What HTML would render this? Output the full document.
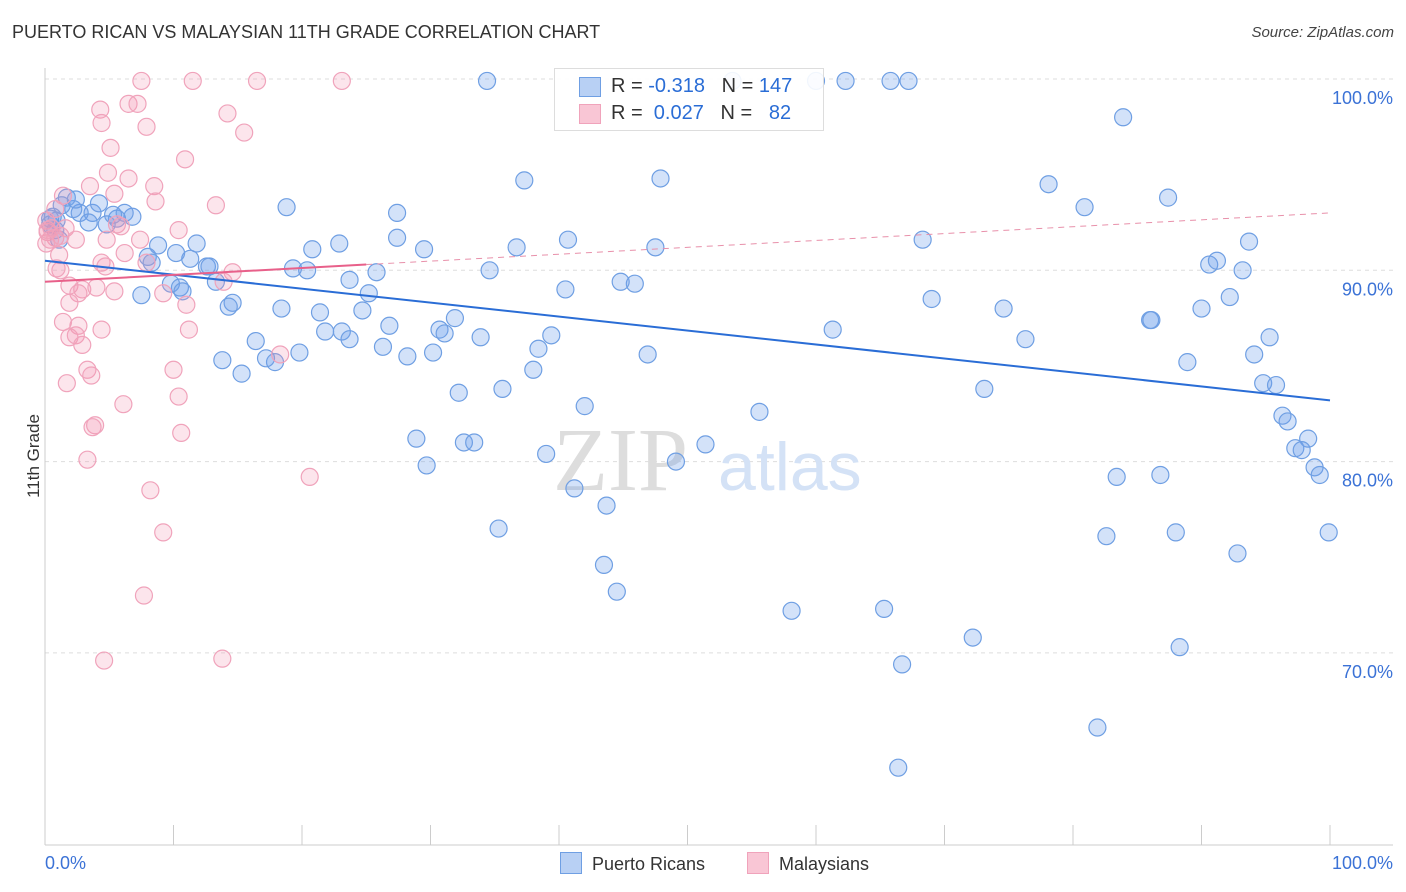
<!DOCTYPE html>
<html><head><meta charset="utf-8"><style>
body{margin:0;background:#fff;font-family:"Liberation Sans",sans-serif;}
#wrap{position:relative;width:1406px;height:892px;overflow:hidden;}
.t{position:absolute;white-space:nowrap;}
</style></head><body>
<div id="wrap">
<div class="t" style="left:12px;top:22px;font-size:18px;color:#333;">PUERTO RICAN VS MALAYSIAN 11TH GRADE CORRELATION CHART</div>
<div class="t" style="right:12px;top:24px;font-size:15px;color:#444;font-style:italic;">Source: ZipAtlas.com</div>
<div class="t" style="left:-8px;top:446px;font-size:17px;color:#333;transform:rotate(-90deg);">11th Grade</div>
<svg id="svg" width="1406" height="892" style="position:absolute;left:0;top:0"></svg>
</div>
<script>
const yTicks=[100,90,80,70];
const yTickLabels=["100.0%","90.0%","80.0%","70.0%"];
const xTickLabels=["0.0%","100.0%"];
const blueX=[34.4,53.5,60.0,62.3,65.8,67.2,83.9,78.1,80.9,87.4,93.7,90.6,91.2,93.2,92.2,90.0,86.0,86.1,95.3,94.1,88.9,94.8,95.8,96.3,96.7,98.3,97.3,97.8,98.8,99.2,99.9,92.8,88.0,82.6,86.8,83.4,88.3,81.9,72.2,66.7,66.4,65.3,58.1,44.5,43.5,35.3,39.0,41.2,43.7,49.1,51.4,42.0,55.6,68.3,69.0,74.6,76.3,73.1,61.3,46.9,45.9,44.8,47.5,47.9,40.5,40.7,37.3,36.7,34.6,39.4,38.4,38.0,35.6,32.2,32.6,33.4,28.9,29.7,27.4,29.5,27.4,23.7,25.8,25.2,24.7,23.1,23.7,26.8,26.3,28.2,30.2,30.7,31.1,31.9,33.9,22.9,20.8,20.4,19.3,18.8,18.4,21.4,21.8,19.8,17.9,17.2,16.4,15.3,13.8,14.6,14.3,13.3,12.6,12.8,11.3,11.8,10.2,8.8,8.0,8.3,9.8,10.5,10.7,7.5,6.8,6.2,5.6,4.8,5.3,3.7,4.2,2.7,3.4,2.2,1.7,1.3,0.9,0.4,0.4,0.8,1.1,2.4,0.6];
const blueY=[99.9,99.9,99.9,99.9,99.9,99.9,98.0,94.5,93.3,93.8,91.5,90.3,90.5,90.0,88.6,88.0,87.4,87.4,86.5,85.6,85.2,84.1,84.0,82.4,82.1,81.2,80.7,80.6,79.7,79.3,76.3,75.2,76.3,76.1,79.3,79.2,70.3,66.1,70.8,69.4,64.0,72.3,72.2,73.2,74.6,76.5,80.4,78.6,77.7,80.0,80.9,82.9,82.6,91.6,88.5,88.0,86.4,83.8,86.9,85.6,89.3,89.4,91.2,94.8,89.0,91.6,94.7,91.2,90.0,86.6,85.9,84.8,83.8,83.6,81.0,81.0,81.2,79.8,93.0,91.1,91.7,89.5,89.9,88.8,87.9,86.8,86.4,87.1,86.0,85.5,85.7,86.9,86.7,87.5,86.5,91.4,91.1,90.0,90.1,93.3,88.0,87.8,86.8,85.7,85.2,85.4,86.3,84.6,85.3,88.3,88.1,89.4,90.2,90.2,90.6,91.4,90.9,91.3,90.7,90.4,89.3,89.1,88.9,88.7,92.8,93.0,92.7,92.4,92.9,93.0,93.5,93.0,92.5,93.2,93.8,93.4,92.6,92.4,92.7,92.1,91.6,93.7,92.8];
const pinkX=[7.5,11.5,16.5,23.1,4.3,6.5,7.2,4.4,7.9,14.2,15.5,5.1,10.9,4.9,6.5,3.5,8.5,5.4,8.6,13.3,1.4,0.8,0.1,0.2,0.8,1.6,2.4,1.1,4.8,5.9,5.6,7.4,10.4,6.2,4.4,1.2,0.9,4.7,7.9,14.6,13.9,9.2,11.0,1.9,2.9,4.0,2.6,5.4,1.9,2.6,1.4,4.4,1.9,2.4,2.9,11.2,3.3,3.6,10.0,1.7,6.1,10.4,3.9,3.7,10.6,3.3,20.6,8.2,9.2,7.7,4.6,13.8,18.3,0.1,0.4,0.2,0.5,1.2];
const pinkY=[99.9,99.9,99.9,99.9,98.4,98.7,98.7,97.7,97.5,98.2,97.2,96.4,95.8,95.1,94.8,94.4,94.4,94.0,93.6,93.4,93.9,93.2,92.6,92.0,91.7,92.2,91.6,90.8,91.6,92.3,92.4,91.6,92.1,90.9,90.4,90.0,90.1,90.2,90.4,89.9,89.4,88.8,88.2,89.2,89.0,89.1,88.8,88.9,88.3,87.1,87.3,86.9,86.5,86.6,86.1,86.9,84.8,84.5,84.8,84.1,83.0,83.4,81.9,81.8,81.5,80.1,79.2,78.5,76.3,73.0,69.6,69.7,85.6,91.4,91.6,92.1,92.2,91.8];
const blueTrend=[90.5,83.2];
const pinkTrend=[89.4,93.0];
const pinkSolidEnd=[25];

const X0=45,X1=1330,Ytop=79,PX=19.13;
const sx=v=>X0+(X1-X0)*v/100;
const sy=v=>Ytop+(100-v)*PX*1;
const ns="http://www.w3.org/2000/svg";
const svg=document.getElementById('svg');
function mk(tag,attrs,parent){const e=document.createElementNS(ns,tag);for(const k in attrs)e.setAttribute(k,attrs[k]);(parent||svg).appendChild(e);return e;}

// gridlines
yTicks.forEach((v,i)=>{
  const g=mk('line',{x1:45,x2:1393,y1:sy(v),y2:sy(v),stroke:'#ddd','stroke-dasharray':'4,4'});
  
  
  const t=mk('text',{x:1393,y:sy(v)+25,'text-anchor':'end','font-size':18,fill:'#3b72d6','font-family':'Liberation Sans'});
  t.textContent=yTickLabels[i];
  
  
});
// axes
let a=mk('line',{x1:45,x2:45,y1:68,y2:845,stroke:'#ccc'});


a=mk('line',{x1:45,x2:1393,y1:845,y2:845,stroke:'#ccc'});


for(let i=0;i<=10;i++){
  const tk=mk('line',{x1:sx(i*10),x2:sx(i*10),y1:825,y2:845,stroke:'#ccc'});
  
  
}
let xt=mk('text',{x:45,y:869,'font-size':18,fill:'#3b72d6','font-family':'Liberation Sans'});
xt.textContent=xTickLabels[0];


xt=mk('text',{x:1393,y:869,'text-anchor':'end','font-size':18,fill:'#3b72d6','font-family':'Liberation Sans'});
xt.textContent=xTickLabels[1];



// watermark
let w=mk('text',{x:553,y:490,'font-size':90,fill:'#ddd','font-family':'Liberation Serif'});
w.textContent='ZIP';


w=mk('text',{x:718,y:490,'font-size':68,fill:'#d4e2f6','font-family':'Liberation Sans'});
w.textContent='atlas';



// points
blueX.forEach((x,i)=>{
  const c=mk('circle',{cx:sx(x),cy:sy(blueY[i]),r:8.5,fill:'rgba(110,160,235,0.3)',stroke:'#6f9fe3','stroke-width':1.2});
  
  
});
pinkX.forEach((x,i)=>{
  const c=mk('circle',{cx:sx(x),cy:sy(pinkY[i]),r:8.5,fill:'rgba(245,150,180,0.25)',stroke:'#f0a3bb','stroke-width':1.2});
  
  
});
// trends
let l=mk('line',{x1:sx(0),y1:sy(blueTrend[0]),x2:sx(100),y2:sy(blueTrend[1]),stroke:'#2a6dd6','stroke-width':2});


const pAt=x=>pinkTrend[0]+(pinkTrend[1]-pinkTrend[0])*x/100;
l=mk('line',{x1:sx(pinkSolidEnd[0]),y1:sy(pAt(pinkSolidEnd[0])),x2:sx(100),y2:sy(pinkTrend[1]),stroke:'#e890aa','stroke-width':1,'stroke-dasharray':'6,5'});


l=mk('line',{x1:sx(0),y1:sy(pinkTrend[0]),x2:sx(pinkSolidEnd[0]),y2:sy(pAt(pinkSolidEnd[0])),stroke:'#e8608a','stroke-width':2});


</script>
<div style="position:absolute;left:554px;top:68px;width:268px;height:61px;border:1px solid #ddd;background:rgba(255,255,255,0.9);font-size:20px;color:#333;">
  <div style="position:absolute;left:24px;top:8px;width:20px;height:18px;background:#b8d0f4;border:1px solid #6f9fe3;"></div>
  <div class="t" style="left:56px;top:6px;">R = <span style="color:#2a6dd6">-0.318</span>&nbsp;&nbsp;&nbsp;N = <span style="color:#2a6dd6">147</span></div>
  <div style="position:absolute;left:24px;top:35px;width:20px;height:18px;background:#f9c6d5;border:1px solid #f0a3bb;"></div>
  <div class="t" style="left:56px;top:33px;">R = &nbsp;<span style="color:#2a6dd6">0.027</span>&nbsp;&nbsp;&nbsp;N = &nbsp;&nbsp;<span style="color:#2a6dd6">82</span></div>
</div>
<div style="position:absolute;left:560px;top:852px;font-size:18px;color:#333;">
  <div style="position:absolute;left:0;top:0;white-space:nowrap;"><span style="display:inline-block;width:20px;height:20px;background:#b8d0f4;border:1px solid #6f9fe3;vertical-align:-4px;margin-right:10px;"></span>Puerto Ricans</div>
  <div style="position:absolute;left:187px;top:0;white-space:nowrap;"><span style="display:inline-block;width:20px;height:20px;background:#f9c6d5;border:1px solid #f0a3bb;vertical-align:-4px;margin-right:10px;"></span>Malaysians</div>
</div>
</body></html>
